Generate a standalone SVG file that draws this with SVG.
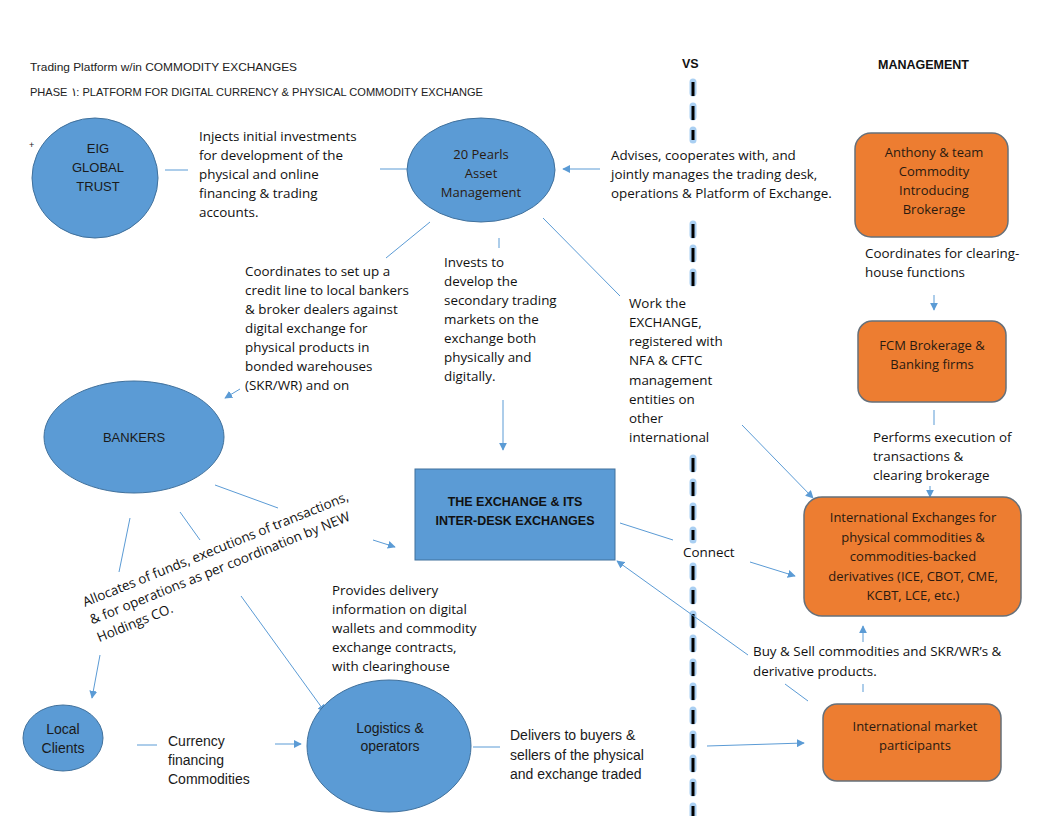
<svg xmlns="http://www.w3.org/2000/svg" width="1056" height="816" viewBox="0 0 1056 816">
<defs>
<marker id="ah" viewBox="0 0 10 10" refX="9" refY="5" markerWidth="8" markerHeight="8" markerUnits="userSpaceOnUse" orient="auto"><path d="M0,0 L10,5 L0,10 z" fill="#5B9BD5"/></marker>
<style>
.t{font-family:"Open Sans","Liberation Sans",sans-serif;font-size:13.4px;fill:#111}
.n{font-family:"Liberation Sans",Arial,sans-serif;font-size:14px;fill:#1a1a1a}
.nc{font-family:"Liberation Sans",Arial,sans-serif;font-size:13px;fill:#1a1a1a;text-anchor:middle}
.nc14{font-family:"Liberation Sans",Arial,sans-serif;font-size:14px;fill:#1a1a1a;text-anchor:middle}
.oc{font-family:"Open Sans","Liberation Sans",sans-serif;font-size:13px;fill:#2a1a10;text-anchor:middle}
.h{font-family:"Liberation Sans",Arial,sans-serif;font-size:11.5px;fill:#222}
.hb{font-family:"Liberation Sans",Arial,sans-serif;font-size:12.5px;font-weight:bold;fill:#111}
.b{fill:#5B9BD5;stroke:#41719C;stroke-width:1}
.o{fill:#ED7D31;stroke:#66707a;stroke-width:1.5}
.c{stroke:#5B9BD5;stroke-width:1;fill:none}
.ca{stroke:#5B9BD5;stroke-width:1;fill:none;marker-end:url(#ah)}
.db{stroke:#a9cff2;stroke-width:7;stroke-dasharray:11 13;stroke-linecap:round;fill:none}
.dk{stroke:#000;stroke-width:3;stroke-dasharray:14 10;fill:none}
</style>
</defs>
<rect width="1056" height="816" fill="#fff"/>

<g id="header">
<text class="h" x="30" y="71" textLength="267" lengthAdjust="spacingAndGlyphs">Trading Platform w/in COMMODITY EXCHANGES</text>
<text class="h" x="30" y="96" textLength="453" lengthAdjust="spacingAndGlyphs">PHASE ١: PLATFORM FOR DIGITAL CURRENCY &amp; PHYSICAL COMMODITY EXCHANGE</text>
<text class="hb" x="682" y="68">VS</text>
<text class="hb" x="878" y="69">MANAGEMENT</text>
<text x="29" y="148" style="font-family:'Liberation Sans',sans-serif;font-size:9px;fill:#222">+</text>
</g>

<g id="divider">
<path class="db" d="M693,82 V140 M693,224 V292 M693,458 V540 M693,566 V816"/>
<path class="dk" d="M693,82 V140 M693,224 V292 M693,458 V540 M693,566 V816"/>
</g>

<g id="connectors">
<line class="c" x1="165" y1="170" x2="188" y2="170"/>
<line class="c" x1="380" y1="169" x2="407" y2="169"/>
<line class="ca" x1="600" y1="169" x2="563" y2="169"/>
<line class="c" x1="430" y1="222" x2="386" y2="258"/>
<line class="ca" x1="240" y1="389" x2="225" y2="398"/>
<line class="c" x1="499" y1="238" x2="499" y2="248"/>
<line class="ca" x1="503" y1="400" x2="503" y2="450"/>
<line class="c" x1="543" y1="218" x2="620" y2="296"/>
<line class="ca" x1="742" y1="425" x2="813" y2="498"/>
<line class="ca" x1="934" y1="295" x2="934" y2="310"/>
<line class="c" x1="934" y1="410" x2="934" y2="425"/>
<line class="ca" x1="930" y1="486" x2="930" y2="497"/>
<line class="c" x1="215" y1="485" x2="278" y2="508"/>
<line class="ca" x1="373" y1="540" x2="395" y2="547"/>
<line class="c" x1="180" y1="512" x2="200" y2="540"/>
<line class="ca" x1="241" y1="596" x2="325" y2="712"/>
<line class="c" x1="130" y1="518" x2="119" y2="572"/>
<line class="ca" x1="100" y1="655" x2="92" y2="698"/>
<line class="c" x1="620" y1="523" x2="673" y2="540"/>
<line class="ca" x1="750" y1="562" x2="795" y2="576"/>
<line class="c" x1="808" y1="701" x2="785" y2="684"/>
<line class="ca" x1="748" y1="655" x2="617" y2="561"/>
<line class="ca" x1="863" y1="642" x2="863" y2="626"/>
<line class="c" x1="863" y1="684" x2="863" y2="692"/>
<line class="c" x1="137" y1="745" x2="157" y2="745"/>
<line class="ca" x1="275" y1="744" x2="301" y2="744"/>
<line class="c" x1="473" y1="747" x2="500" y2="747"/>
<line class="ca" x1="707" y1="746" x2="804" y2="743"/>
</g>

<g id="eig">
<ellipse class="b" cx="95" cy="178" rx="63" ry="60"/>
<text class="nc" x="98" y="153">EIG</text>
<text class="nc" x="98" y="172">GLOBAL</text>
<text class="nc" x="98" y="191">TRUST</text>
</g>
<g id="pearls">
<ellipse class="b" cx="481" cy="170" rx="74" ry="52"/>
<text class="oc" x="481" y="159">20 Pearls</text>
<text class="oc" x="481" y="178">Asset</text>
<text class="oc" x="481" y="197">Management</text>
</g>
<g id="bankers">
<ellipse class="b" cx="134" cy="437" rx="90" ry="56"/>
<text class="nc" x="134" y="442">BANKERS</text>
</g>
<g id="exchange">
<rect class="b" x="415" y="469" width="200" height="91"/>
<text class="hb" x="515" y="506" text-anchor="middle">THE EXCHANGE &amp; ITS</text>
<text class="hb" x="515" y="525" text-anchor="middle">INTER-DESK EXCHANGES</text>
</g>
<g id="localclients">
<ellipse class="b" cx="63" cy="738" rx="40" ry="33"/>
<text class="nc14" x="63" y="734">Local</text>
<text class="nc14" x="63" y="753">Clients</text>
</g>
<g id="logistics">
<ellipse class="b" cx="389" cy="746" rx="82" ry="66"/>
<text class="nc14" x="390" y="733">Logistics &amp;</text>
<text class="nc14" x="390" y="751">operators</text>
</g>
<g id="anthony">
<rect class="o" x="855" y="133" width="153" height="104" rx="16"/>
<text class="oc" x="934" y="157">Anthony &amp; team</text>
<text class="oc" x="934" y="176">Commodity</text>
<text class="oc" x="934" y="195">Introducing</text>
<text class="oc" x="934" y="214">Brokerage</text>
</g>
<g id="fcm">
<rect class="o" x="858" y="321" width="148" height="81" rx="14"/>
<text class="oc" x="932" y="350">FCM Brokerage &amp;</text>
<text class="oc" x="932" y="369">Banking firms</text>
</g>
<g id="intlexchanges">
<rect class="o" x="804" y="497" width="217" height="119" rx="18"/>
<text class="oc" x="913" y="522">International Exchanges for</text>
<text class="oc" x="913" y="542">physical commodities &amp;</text>
<text class="oc" x="913" y="561">commodities-backed</text>
<text class="oc" x="913" y="581">derivatives (ICE, CBOT, CME,</text>
<text class="oc" x="913" y="600">KCBT, LCE, etc.)</text>
</g>
<g id="participants">
<rect class="o" x="823" y="704" width="178" height="77" rx="14"/>
<text class="oc" x="915" y="731">International market</text>
<text class="oc" x="915" y="750">participants</text>
</g>

<g id="labels">
<text class="t"><tspan x="199" y="141">Injects initial investments</tspan><tspan x="199" y="160">for development of the</tspan><tspan x="199" y="179">physical and online</tspan><tspan x="199" y="198">financing &amp; trading</tspan><tspan x="199" y="217">accounts.</tspan></text>
<text class="t"><tspan x="611" y="160">Advises, cooperates with, and</tspan><tspan x="611" y="179">jointly manages the trading desk,</tspan><tspan x="611" y="198">operations &amp; Platform of Exchange.</tspan></text>
<text class="t"><tspan x="245" y="276">Coordinates to set up a</tspan><tspan x="245" y="295">credit line to local bankers</tspan><tspan x="245" y="314">&amp; broker dealers against</tspan><tspan x="245" y="333">digital exchange for</tspan><tspan x="245" y="352">physical products in</tspan><tspan x="245" y="371">bonded warehouses</tspan><tspan x="245" y="390">(SKR/WR) and on</tspan></text>
<text class="t"><tspan x="444" y="267">Invests to</tspan><tspan x="444" y="286">develop the</tspan><tspan x="444" y="305">secondary trading</tspan><tspan x="444" y="324">markets on the</tspan><tspan x="444" y="343">exchange both</tspan><tspan x="444" y="362">physically and</tspan><tspan x="444" y="381">digitally.</tspan></text>
<text class="t"><tspan x="629" y="308">Work the</tspan><tspan x="629" y="327">EXCHANGE,</tspan><tspan x="629" y="346">registered with</tspan><tspan x="629" y="365">NFA &amp; CFTC</tspan><tspan x="629" y="385">management</tspan><tspan x="629" y="404">entities on</tspan><tspan x="629" y="423">other</tspan><tspan x="629" y="442">international</tspan></text>
<text class="t"><tspan x="865" y="258">Coordinates for clearing-</tspan><tspan x="865" y="277">house functions</tspan></text>
<text class="t"><tspan x="873" y="442">Performs execution of</tspan><tspan x="873" y="461">transactions &amp;</tspan><tspan x="873" y="480">clearing brokerage</tspan></text>
<text class="t" x="683" y="557">Connect</text>
<text class="t"><tspan x="753" y="656">Buy &amp; Sell commodities and SKR/WR’s &amp;</tspan><tspan x="753" y="676">derivative products.</tspan></text>
<text class="t"><tspan x="332" y="595">Provides delivery</tspan><tspan x="332" y="614">information on digital</tspan><tspan x="332" y="633">wallets and commodity</tspan><tspan x="332" y="652">exchange contracts,</tspan><tspan x="332" y="671">with clearinghouse</tspan></text>
<g transform="translate(85,607) rotate(-22)">
<text class="t" x="0" y="0">Allocates of funds, executions of transactions,</text>
<text class="t" x="0" y="19">&amp; for operations as per coordination by NEW</text>
<text class="t" x="0" y="38">Holdings CO.</text>
</g>
<text class="n"><tspan x="168" y="746">Currency</tspan><tspan x="168" y="765">financing</tspan><tspan x="168" y="784">Commodities</tspan></text>
<text class="n"><tspan x="510" y="740">Delivers to buyers &amp;</tspan><tspan x="510" y="760">sellers of the physical</tspan><tspan x="510" y="779">and exchange traded</tspan></text>
</g>
</svg>
